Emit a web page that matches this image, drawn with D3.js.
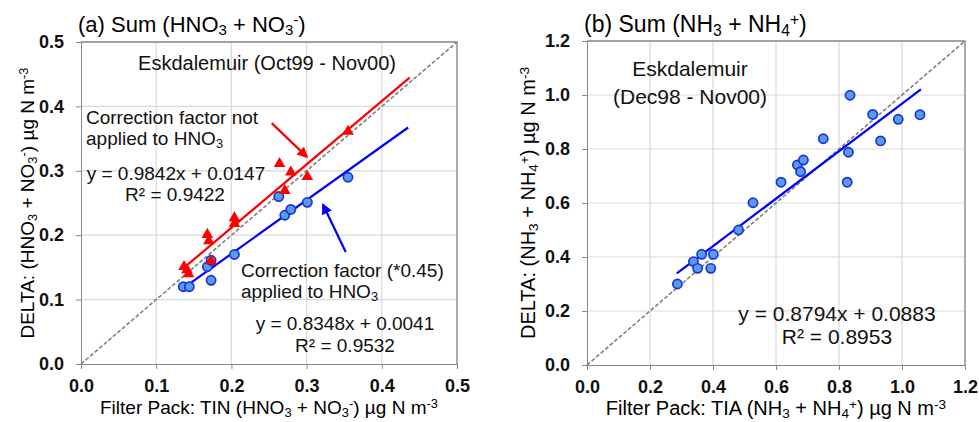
<!DOCTYPE html>
<html>
<head>
<meta charset="utf-8">
<script src="https://cdn.jsdelivr.net/npm/d3@7"></script>
<style>
  body { margin: 0; background: #fff; }
  svg { font-family: "Liberation Sans", Arial, sans-serif; }
  .tick text { font-weight: bold; font-size: 18px; fill: #111; }
  .axis path, .axis line { stroke: #888; }
</style>
</head>
<body>
<div id="chart-area"></div>
<script>
// (a) TIN: filter pack vs DELTA, correction factor not applied (red)
var redX = [0.137, 0.141, 0.143, 0.168, 0.170, 0.173, 0.204, 0.204, 0.264, 0.271, 0.279, 0.301, 0.355];
var redY = [0.151, 0.146, 0.140, 0.201, 0.191, 0.160, 0.227, 0.218, 0.311, 0.269, 0.298, 0.291, 0.361];
// (a) correction factor (*0.45) applied (blue)
var blueX = [0.136, 0.144, 0.168, 0.173, 0.173, 0.204, 0.263, 0.271, 0.279, 0.301, 0.355];
var blueY = [0.120, 0.120, 0.151, 0.161, 0.130, 0.170, 0.260, 0.231, 0.240, 0.251, 0.290];
// (b) TIA: filter pack vs DELTA
var tiaX = [0.287, 0.338, 0.351, 0.364, 0.393, 0.401, 0.481, 0.527, 0.616, 0.668, 0.678, 0.687, 0.750, 0.826, 0.830, 0.835, 0.907, 0.932, 0.988, 1.057];
var tiaY = [0.300, 0.383, 0.358, 0.410, 0.358, 0.410, 0.500, 0.601, 0.677, 0.741, 0.716, 0.759, 0.838, 0.677, 0.788, 0.999, 0.928, 0.830, 0.910, 0.927];

// regression lines: [slope, intercept, xStart, xEnd]
var redFit = [0.9842, 0.0147, 0.137, 0.437];
var blueFit = [0.8348, 0.0041, 0.145, 0.435];
var tiaFit = [0.8794, 0.0883, 0.285, 1.06];

var ticksA = [0, 0.1, 0.2, 0.3, 0.4, 0.5];
var ticksB = [0, 0.2, 0.4, 0.6, 0.8, 1.0, 1.2];

var svg = d3.select("#chart-area").append("svg")
    .attr("width", 979)
    .attr("height", 422);

var defs = svg.append("defs");
[["arrRed", "#ff0000"], ["arrBlue", "#0000ff"]].forEach(function(m) {
    defs.append("marker")
        .attr("id", m[0])
        .attr("viewBox", "0 0 10 10")
        .attr("refX", 8).attr("refY", 5)
        .attr("markerWidth", 5).attr("markerHeight", 5)
        .attr("orient", "auto")
      .append("path")
        .attr("d", "M0,0 L10,5 L0,10 z")
        .attr("fill", m[1]);
});

// text with sub/superscript parts
function rich(sel, parts, size) {
    parts.forEach(function(p) {
        var t = sel.append("tspan").text(p[0]);
        if (p[1] == "sub") t.attr("font-size", size * 0.68).attr("baseline-shift", "-22%");
        if (p[1] == "sup") t.attr("font-size", size * 0.68).attr("baseline-shift", "45%");
    });
    return sel;
}

function panel(o) {
    var g = svg.append("g").attr("transform", "translate(" + o.left + "," + o.top + ")");
    var x = d3.scaleLinear().domain([0, o.max]).range([0, o.w]);
    var y = d3.scaleLinear().domain([0, o.max]).range([o.h, 0]);

    // grid
    g.selectAll(".vg").data(o.ticks.slice(1)).enter().append("line")
        .attr("x1", d => x(d)).attr("x2", d => x(d))
        .attr("y1", 0).attr("y2", o.h)
        .attr("stroke", "#d9d9d9").attr("stroke-width", 1.2);
    g.selectAll(".hg").data(o.ticks.slice(1)).enter().append("line")
        .attr("x1", 0).attr("x2", o.w)
        .attr("y1", d => y(d)).attr("y2", d => y(d))
        .attr("stroke", "#d9d9d9").attr("stroke-width", 1.2);
    // frame top/right
    g.append("path")
        .attr("d", "M0,0 H" + o.w + " V" + o.h)
        .attr("fill", "none").attr("stroke", "#8a8a8a").attr("stroke-width", 1.3);

    g.append("g").attr("class", "axis")
        .attr("transform", "translate(0," + o.h + ")")
        .call(d3.axisBottom(x).tickValues(o.ticks).tickFormat(d3.format(".1f")).tickSize(5).tickPadding(10).tickSizeOuter(0));
    g.append("g").attr("class", "axis")
        .call(d3.axisLeft(y).tickValues(o.ticks).tickFormat(d3.format(".1f")).tickSize(5).tickPadding(12).tickSizeOuter(0));

    // 1:1 line
    g.append("line")
        .attr("x1", x(0)).attr("y1", y(0)).attr("x2", x(o.max)).attr("y2", y(o.max))
        .attr("stroke", "#808080").attr("stroke-width", 1.6).attr("stroke-dasharray", "4,2");

    // titles
    rich(svg.append("text").attr("x", o.left - 3).attr("y", 32).attr("font-size", o.titleSize), o.title, o.titleSize);
    rich(g.append("text").attr("x", o.w / 2).attr("y", o.h + 50)
        .attr("text-anchor", "middle").attr("font-size", o.labelSize), o.xLabel, o.labelSize);
    rich(g.append("text").attr("transform", "rotate(-90)")
        .attr("x", -o.h / 2).attr("y", o.yLabelY)
        .attr("text-anchor", "middle").attr("font-size", o.labelSize), o.yLabel, o.labelSize);

    return {g: g, x: x, y: y};
}

function fitLine(p, f, color) {
    p.g.append("line")
        .attr("x1", p.x(f[2])).attr("y1", p.y(f[0] * f[2] + f[1]))
        .attr("x2", p.x(f[3])).attr("y2", p.y(f[0] * f[3] + f[1]))
        .attr("stroke", color).attr("stroke-width", 2.2);
}

function circles(p, xs, ys) {
    p.g.selectAll(null).data(xs).enter().append("circle")
        .attr("cx", d => p.x(d))
        .attr("cy", (d, i) => p.y(ys[i]))
        .attr("r", 4.6)
        .attr("fill", "#5b9be6")
        .attr("stroke", "#1733e0")
        .attr("stroke-width", 1.7);
}

function label(p, x, y, parts, size, anchor) {
    return rich(p.g.append("text").attr("x", x).attr("y", y)
        .attr("font-size", size).attr("text-anchor", anchor || "start").attr("fill", "#111"), parts, size);
}

// ---------- panel (a)
var a = panel({
    left: 81, top: 42, w: 376, h: 322, max: 0.5, ticks: ticksA, yLabelY: -47,
    titleSize: 22, labelSize: 19,
    title: [["(a) Sum (HNO"], ["3", "sub"], [" + NO"], ["3", "sub"], ["-", "sup"], [")"]],
    xLabel: [["Filter Pack: TIN (HNO"], ["3", "sub"], [" + NO"], ["3", "sub"], ["-", "sup"], [") \u00b5g N m"], ["-3", "sup"]],
    yLabel: [["DELTA: (HNO"], ["3", "sub"], [" + NO"], ["3", "sub"], ["-", "sup"], [") \u00b5g N m"], ["-3", "sup"]]
});

fitLine(a, redFit, "#ff0000");
fitLine(a, blueFit, "#0000ff");
circles(a, blueX, blueY);
a.g.selectAll(null).data(redX).enter().append("path")
    .attr("d", d3.symbol().type(d3.symbolTriangle).size(58))
    .attr("transform", (d, i) => "translate(" + a.x(d) + "," + a.y(redY[i]) + ")")
    .attr("fill", "#ff0000");

// arrows
a.g.append("line")
    .attr("x1", a.x(0.2536)).attr("y1", a.y(0.374)).attr("x2", a.x(0.300)).attr("y2", a.y(0.322))
    .attr("stroke", "#ff0000").attr("stroke-width", 2.2).attr("marker-end", "url(#arrRed)");
a.g.append("line")
    .attr("x1", a.x(0.352)).attr("y1", a.y(0.174)).attr("x2", a.x(0.322)).attr("y2", a.y(0.247))
    .attr("stroke", "#0000ff").attr("stroke-width", 2.2).attr("marker-end", "url(#arrBlue)");

label(a, 186, 28, [["Eskdalemuir (Oct99 - Nov00)"]], 20, "middle");
label(a, 5, 82, [["Correction factor not"]], 19);
label(a, 5, 103, [["applied to HNO"], ["3", "sub"]], 19);
label(a, 95, 138, [["y = 0.9842x + 0.0147"]], 19, "middle");
label(a, 94, 159, [["R\u00b2 = 0.9422"]], 19, "middle");
label(a, 160, 235, [["Correction factor (*0.45)"]], 19);
label(a, 160, 256, [["applied to HNO"], ["3", "sub"]], 19);
label(a, 264, 288, [["y = 0.8348x + 0.0041"]], 19, "middle");
label(a, 264, 310, [["R\u00b2 = 0.9532"]], 19, "middle");

// ---------- panel (b)
var b = panel({
    left: 587, top: 41, w: 378, h: 324, max: 1.2, ticks: ticksB, yLabelY: -52,
    titleSize: 23, labelSize: 20,
    title: [["(b) Sum (NH"], ["3", "sub"], [" + NH"], ["4", "sub"], ["+", "sup"], [")"]],
    xLabel: [["Filter Pack: TIA (NH"], ["3", "sub"], [" + NH"], ["4", "sub"], ["+", "sup"], [") \u00b5g N m"], ["-3", "sup"]],
    yLabel: [["DELTA: (NH"], ["3", "sub"], [" + NH"], ["4", "sub"], ["+", "sup"], [") \u00b5g N m"], ["-3", "sup"]]
});

fitLine(b, tiaFit, "#0000ff");
circles(b, tiaX, tiaY);

label(b, 103, 35, [["Eskdalemuir"]], 21, "middle");
label(b, 103, 63, [["(Dec98 - Nov00)"]], 21, "middle");
label(b, 250, 280, [["y = 0.8794x + 0.0883"]], 21, "middle");
label(b, 250, 303, [["R\u00b2 = 0.8953"]], 21, "middle");
</script>
</body>
</html>
